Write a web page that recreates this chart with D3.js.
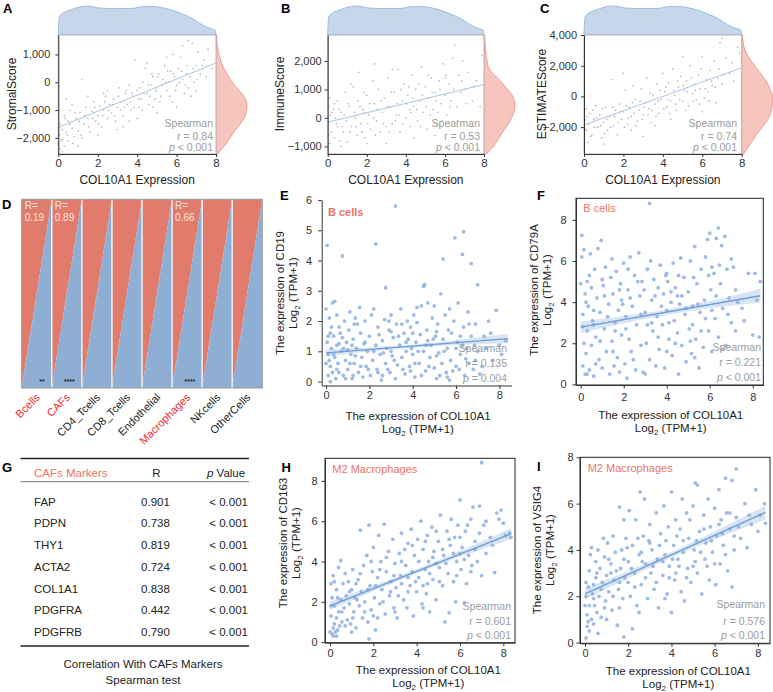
<!DOCTYPE html>
<html><head><meta charset="utf-8">
<script src="https://cdn.jsdelivr.net/npm/d3@7"></script>
<style>body{margin:0;background:#fff}svg{display:block;font-family:"Liberation Sans",Arial,sans-serif}</style>
</head><body><svg id="c" width="773" height="692"></svg>
<script>
// ---------------- DATA ----------------
const xTicksABC = [0, 2, 4, 6, 8];
// top marginal density of COL10A1 expression (x, relative height)
const colDensity = [[0,0],[0.05,0.62],[0.3,0.78],[0.6,0.86],[1.1,0.97],[1.5,1.0],[2.1,0.93],[3.0,0.91],[3.8,0.92],[4.3,0.98],[4.8,0.98],[5.3,0.94],[5.8,0.85],[6.3,0.72],[6.85,0.55],[7.3,0.35],[7.7,0.23],[7.95,0.17],[8,0]];
const stromalDensity = [[1700,0.02],[1140,0.07],[560,0.23],[-35,0.55],[-630,0.96],[-870,1.0],[-1230,0.93],[-1830,0.55],[-2190,0.34],[-2579,0.05]];
const immuneDensity = [[2910,0.02],[1814,0.13],[1233,0.58],[650,0.97],[400,1.0],[50,0.91],[-530,0.58],[-1000,0.3],[-1263,0.08]];
const estimateDensity = [[4000,0.02],[3000,0.11],[1935,0.44],[850,0.83],[-240,1.0],[-1330,0.89],[-2410,0.5],[-3280,0.22],[-3750,0.06]];
const stromalFit = [-1620, 694];
const immuneFit = [-150, 1174];
const estimateFit = [-1870, 1870];
const stromalStats = ["Spearman", "r = 0.84", "< 0.001"];
const immuneStats = ["Spearman", "r = 0.53", "< 0.001"];
const estimateStats = ["Spearman", "r = 0.74", "< 0.001"];
const stromalPts = [[0.0,-2200],[0.05,-1900],[0.1,-2400],[0.1,-1500],[0.15,-2050],[0.2,-1700],[0.3,-2300],[0.3,-1200],[0.4,-1800],[0.5,-2100],[0.5,-1400],[0.6,-1000],[0.7,-1650],[0.8,-1950],[0.9,-1300],[1.0,-1750],[1.1,-1100],[1.2,100],[1.2,-2000],[1.3,-1500],[1.4,-900],[1.5,-1300],[1.6,-1800],[1.7,-1050],[1.8,-700],[1.9,-1400],[2.0,-1200],[2.1,-850],[2.2,-1600],[2.3,-1000],[2.4,-500],[2.5,-1300],[2.5,-300],[2.6,-800],[2.7,-1100],[2.8,-600],[2.9,-1400],[3.0,-900],[3.1,-200],[3.2,-700],[3.3,-1200],[3.4,-400],[3.5,-800],[3.6,-100],[3.7,-1000],[3.8,-500],[3.9,800],[4.0,-300],[4.1,-900],[4.2,-600],[4.3,0],[4.4,500],[4.5,-400],[4.6,-800],[4.7,-100],[4.8,200],[4.9,-600],[5.0,-200],[5.1,300],[5.2,-500],[5.3,100],[5.4,600],[5.5,-300],[5.6,0],[5.7,400],[5.8,-700],[5.9,200],[6.0,-100],[6.1,500],[6.2,900],[6.3,100],[6.4,-400],[6.5,300],[6.6,-200],[6.7,200],[6.8,1400],[6.9,0],[7.0,600],[7.1,1100],[7.2,300],[7.4,800],[7.6,1200],[7.8,500],[6.6,1500],[5.8,1000],[4.5,700],[3.3,-1600],[2.0,-1900],[1.0,-2300],[0.2,-2500],[0.4,-600],[0.7,-800],[1.5,-500],[5.0,-1100],[6.0,-900],[3.0,-1700],[4.0,-1300],[7.0,-300],[7.5,200],[2.3,-400],[3.6,-1400],[4.8,-900],
 [0.05,-1600],[0.2,-2100],[0.35,-1300],[0.45,-1900],[0.6,-1500],[0.75,-2200],[0.85,-1100],[1.05,-1400],[1.15,-1900],[1.35,-1200],[1.55,-1600],[1.75,-1300],[1.85,-900],[2.05,-1500],[2.25,-1200],[2.35,-700],[2.55,-1000],[2.75,-800],[2.85,-1200],[3.05,-500],[3.15,-1000],[3.35,-900],[3.45,-300],[3.65,-700],[3.75,-400],[3.85,-900],[4.05,-600],[4.15,-200],[4.25,-1000],[4.35,-400],[4.55,-100],[4.65,-500],[4.75,300],[4.95,-300],[5.05,200],[5.15,-700],[5.25,-100],[5.45,0],[5.55,400],[5.65,-500],[5.85,300],[5.95,-300],[6.15,0],[6.25,400],[6.45,-100],[6.55,600],[6.75,-500],[6.85,500],[7.05,100],[7.3,600],[6.3,1300],[5.5,900]];
const immunePts = [[0.0,-300],[0.05,400],[0.1,-900],[0.1,700],[0.15,100],[0.2,-500],[0.3,300],[0.35,-700],[0.4,0],[0.5,600],[0.5,-300],[0.6,-800],[0.7,200],[0.8,-500],[0.9,900],[0.95,-100],[1.0,-850],[1.1,400],[1.2,-300],[1.3,1100],[1.4,0],[1.5,-600],[1.55,600],[1.6,1600],[1.7,-200],[1.8,300],[1.9,-700],[2.0,800],[2.1,100],[2.2,-400],[2.3,1300],[2.4,500],[2.5,-100],[2.6,1000],[2.7,-500],[2.8,200],[2.9,700],[3.0,-300],[3.1,1400],[3.2,400],[3.3,-200],[3.4,900],[3.5,100],[3.6,1700],[3.7,-500],[3.8,600],[3.9,1200],[4.0,0],[4.1,800],[4.2,-300],[4.3,1500],[4.4,400],[4.5,1000],[4.6,-100],[4.7,600],[4.8,1800],[4.9,200],[5.0,1100],[5.1,-400],[5.2,700],[5.3,1400],[5.4,300],[5.5,900],[5.6,-200],[5.7,1300],[5.8,500],[5.9,1900],[6.0,800],[6.1,100],[6.2,1200],[6.3,600],[6.4,2100],[6.5,2550],[6.6,400],[6.7,1500],[6.8,900],[6.9,2000],[7.0,1000],[7.2,1600],[7.4,600],[7.6,1300],[7.8,400],[7.9,2200],[4.4,-700],[2.0,-900],[0.7,-1000],[3.0,-900],[5.5,-600],[1.2,1200],[2.4,1900],[3.3,1700],[1.9,200],[4.2,300],[6.0,1400],
 [0.05,-600],[0.2,200],[0.35,500],[0.45,-200],[0.6,300],[0.75,-300],[0.85,100],[1.05,500],[1.15,-500],[1.35,200],[1.45,-300],[1.65,400],[1.75,-500],[1.85,900],[2.05,-200],[2.15,500],[2.35,0],[2.45,-600],[2.55,300],[2.75,600],[2.85,-200],[3.05,400],[3.15,-500],[3.25,900],[3.45,-100],[3.55,500],[3.65,100],[3.75,1000],[3.85,-200],[4.05,500],[4.15,1100],[4.25,200],[4.35,700],[4.55,300],[4.65,1200],[4.75,-300],[4.85,800],[5.05,400],[5.15,1500],[5.25,100],[5.35,900],[5.55,600],[5.65,200],[5.75,1000],[5.85,-100],[6.05,1500],[6.25,400],[6.45,1000],[6.65,-100],[6.85,1300],[7.1,500],[7.5,1100]];
const estimatePts = [[0.0,-2800],[0.05,-1500],[0.1,-2200],[0.1,-800],[0.2,-3000],[0.25,-1800],[0.3,-1100],[0.4,-2500],[0.5,-1500],[0.6,-600],[0.7,-2000],[0.8,-1200],[0.9,-2700],[1.0,-1700],[1.1,-700],[1.2,-2200],[1.3,-1300],[1.4,1100],[1.5,-1900],[1.6,-900],[1.7,-2500],[1.8,-500],[1.9,-1500],[2.0,-1000],[2.1,400],[2.2,-1800],[2.3,-700],[2.4,-1300],[2.5,700],[2.6,-200],[2.7,-1600],[2.8,-900],[2.9,500],[3.0,-1200],[3.1,-400],[3.2,1200],[3.3,-800],[3.4,-1700],[3.5,100],[3.6,-500],[3.7,800],[3.8,-1100],[3.9,-200],[4.0,1500],[4.1,300],[4.2,-700],[4.3,900],[4.4,-300],[4.5,1800],[4.6,100],[4.7,-900],[4.8,600],[4.9,1300],[5.0,-300],[5.1,400],[5.2,1000],[5.3,-600],[5.4,2000],[5.5,200],[5.6,800],[5.7,-200],[5.8,1400],[5.9,500],[6.0,2600],[6.1,-100],[6.2,1100],[6.3,300],[6.4,1700],[6.5,700],[6.6,2300],[6.7,-400],[6.8,1200],[6.9,3500],[7.0,800],[7.2,2500],[7.4,1500],[7.6,1000],[7.8,3200],[7.9,2800],[3.0,-2600],[5.6,-1800],[2.0,1500],[1.0,-3100],[4.4,-1500],[6.0,-1000],[7.0,3800],[5.0,2600],[2.4,-2200],[3.6,-1900],
 [0.05,-2100],[0.15,-1300],[0.35,-2600],[0.45,-900],[0.55,-2000],[0.65,-1400],[0.85,-1900],[0.95,-800],[1.05,-2400],[1.15,-1500],[1.35,-2000],[1.45,-700],[1.55,-1300],[1.75,-1700],[1.85,-1000],[2.05,-2000],[2.15,-600],[2.25,-1400],[2.45,-400],[2.55,-1100],[2.65,-1900],[2.85,-300],[2.95,-1500],[3.05,-700],[3.25,-1200],[3.35,200],[3.45,-900],[3.65,-1300],[3.75,-300],[3.85,400],[4.05,-800],[4.15,600],[4.25,-200],[4.35,-1100],[4.55,400],[4.65,-500],[4.75,1000],[4.85,-200],[5.05,700],[5.15,-900],[5.25,300],[5.45,1200],[5.55,-300],[5.65,400],[5.85,-500],[5.95,1800],[6.15,500],[6.35,-300],[6.45,1000],[6.65,600],[6.85,1800],[7.1,1400],[7.5,2200]];

const cellTypes = ["Bcells","CAFs","CD4_Tcells","CD8_Tcells","Endothelial","Macrophages","NKcells","OtherCells"];
const cellR = ["0.19","0.89","","","","0.66","",""];
const cellStars = ["**","****","","","","****","",""];

const cafMarkers = ["FAP","PDPN","THY1","ACTA2","COL1A1","PDGFRA","PDGFRB"];
const cafR = [0.901, 0.738, 0.819, 0.724, 0.838, 0.442, 0.790];
const cafP = ["< 0.001","< 0.001","< 0.001","< 0.001","< 0.001","< 0.001","< 0.001"];

const cd19Pts = [[0.0,2.4],[0.05,4.5],[0.05,1.3],[0.1,0.2],[0.1,0.9],[0.15,2.1],[0.2,1.6],[0.2,0.5],[0.25,1.1],[0.3,2.6],[0.3,0.3],[0.35,1.5],[0.4,0.8],[0.4,2.65],[0.45,0.1],[0.5,1.2],[0.5,2.2],[0.55,0.6],[0.6,1.8],[0.6,0.3],[0.7,1.0],[0.75,4.15],[0.75,1.45],[0.8,0.2],[0.85,2.0],[0.9,0.7],[0.95,1.3],[1.0,0.4],[1.05,1.7],[1.1,2.3],[1.15,0.9],[1.2,0.1],[1.25,1.4],[1.3,0.6],[1.35,2.1],[1.4,1.1],[1.5,0.3],[1.55,2.45],[1.6,1.6],[1.65,0.8],[1.7,0.15],[1.75,1.25],[1.8,2.0],[1.85,0.5],[1.9,1.0],[2.0,1.5],[2.05,0.2],[2.1,2.2],[2.15,0.7],[2.2,2.4],[2.3,4.55],[2.3,1.2],[2.35,0.4],[2.4,1.8],[2.5,0.9],[2.55,0.05],[2.6,1.35],[2.7,2.05],[2.75,3.1],[2.75,0.6],[2.8,1.1],[2.9,1.7],[2.95,0.3],[3.0,2.2],[3.05,0.85],[3.1,1.45],[3.2,5.8],[3.2,0.1],[3.25,1.9],[3.3,0.55],[3.4,1.2],[3.45,2.4],[3.5,0.8],[3.6,1.6],[3.65,0.25],[3.7,1.0],[3.75,2.0],[3.8,1.4],[3.85,0.5],[3.9,1.8],[4.0,0.9],[4.05,2.2],[4.1,0.15],[4.15,1.3],[4.2,1.95],[4.3,0.6],[4.35,1.55],[4.4,2.5],[4.5,3.15],[4.5,1.0],[4.55,3.2],[4.6,0.35],[4.65,1.7],[4.7,2.6],[4.8,0.8],[4.85,1.2],[4.9,2.1],[5.0,0.45],[5.05,1.5],[5.1,0.1],[5.15,1.9],[5.2,0.95],[5.3,2.9],[5.35,0.6],[5.4,4.05],[5.4,1.4],[5.5,2.2],[5.55,0.3],[5.6,1.1],[5.7,2.4],[5.75,0.7],[5.8,1.6],[5.9,2.0],[5.95,4.75],[6.0,0.5],[6.05,1.3],[6.1,2.6],[6.2,0.9],[6.3,4.2],[6.35,4.95],[6.35,1.8],[6.4,0.2],[6.5,1.1],[6.55,2.3],[6.6,0.6],[6.7,3.9],[6.7,1.5],[6.8,0.4],[6.9,1.9],[7.0,3.2],[7.0,1.0],[7.2,0.5],[7.3,1.5],[7.5,2.0],[7.7,0.7],[7.85,2.35],[8.0,1.2],[8.3,1.35],[6.2,1.5],[5.1,1.65],[4.0,1.6],[3.0,1.0],[1.0,1.05],[0.15,0.7],[1.3,1.9],[2.6,0.2],[3.9,0.35],[4.7,1.35],[5.6,0.15],[0.6,1.25],
 [0.1,1.5],[0.2,0.0],[0.35,0.9],[0.5,0.4],[0.65,1.6],[0.8,1.1],[0.9,0.1],[1.1,0.6],[1.25,0.2],[1.45,1.9],[1.6,0.5],[1.8,1.3],[1.95,0.4],[2.2,1.0],[2.4,0.3],[2.45,1.55],[2.65,0.95],[2.85,0.4],[3.0,1.65],[3.15,0.7],[3.35,1.5],[3.55,0.4],[3.7,1.3],[3.95,1.1],[4.1,0.6],[4.25,1.0],[4.4,0.2],[4.6,1.2],[4.75,0.5],[4.95,1.4],[5.1,0.85],[5.25,0.2],[5.45,1.0],[5.65,1.7],[5.85,0.35],[6.0,1.1],[6.15,0.4],[6.3,1.2],[6.45,0.75],[6.6,1.9],[6.85,1.2],[7.1,0.25],[7.4,1.1],[7.6,1.6],[0.0,0.6],[0.25,1.8],[1.35,0.85],[2.9,2.0],[3.5,1.9],[4.2,2.45],[5.0,2.5],[5.7,0.05],[6.9,0.7],[8.1,0.9],[1.2,1.2]];
const cd79aPts = [[0.0,4.9],[0.05,7.25],[0.05,6.2],[0.1,3.4],[0.1,0.9],[0.15,2.0],[0.15,6.55],[0.2,4.4],[0.2,0.5],[0.25,1.5],[0.3,5.0],[0.3,2.6],[0.35,3.8],[0.4,0.7],[0.45,6.35],[0.5,4.7],[0.5,1.9],[0.55,3.1],[0.6,0.4],[0.65,5.6],[0.7,2.3],[0.75,4.2],[0.8,6.6],[0.85,1.2],[0.9,3.5],[0.95,7.0],[1.0,0.8],[1.05,4.8],[1.1,2.7],[1.15,5.7],[1.2,1.6],[1.3,3.9],[1.35,0.5],[1.4,5.2],[1.45,2.1],[1.5,4.4],[1.55,0.9],[1.6,3.0],[1.65,5.5],[1.7,1.3],[1.75,3.6],[1.8,0.6],[1.85,4.9],[1.9,2.4],[2.0,5.9],[2.05,1.0],[2.1,3.3],[2.15,0.3],[2.2,4.6],[2.25,2.2],[2.3,6.2],[2.35,1.6],[2.4,3.8],[2.5,5.3],[2.55,0.7],[2.6,2.9],[2.7,6.4],[2.75,4.3],[2.8,1.9],[2.85,5.0],[2.9,0.6],[3.0,3.5],[3.05,2.0],[3.1,5.6],[3.2,8.8],[3.2,1.2],[3.3,4.1],[3.35,2.6],[3.4,5.1],[3.5,0.9],[3.55,3.3],[3.6,4.7],[3.65,1.7],[3.7,5.8],[3.8,2.9],[3.85,4.4],[3.9,0.8],[4.0,3.6],[4.05,5.0],[4.1,2.2],[4.2,4.0],[4.25,1.4],[4.3,5.9],[4.35,3.1],[4.4,4.7],[4.5,2.5],[4.55,0.5],[4.6,3.9],[4.65,6.15],[4.7,1.9],[4.8,5.2],[4.85,3.4],[4.9,1.1],[5.0,4.5],[5.05,2.7],[5.1,6.0],[5.15,1.5],[5.2,3.8],[5.3,6.7],[5.35,2.2],[5.4,4.9],[5.5,0.8],[5.55,3.5],[5.6,5.6],[5.7,1.8],[5.75,4.1],[5.8,6.2],[5.9,7.05],[5.95,2.6],[6.0,7.35],[6.05,4.6],[6.1,1.6],[6.2,5.4],[6.25,3.2],[6.3,7.1],[6.4,7.6],[6.4,2.3],[6.5,4.9],[6.55,6.75],[6.6,3.7],[6.7,7.2],[6.75,1.9],[6.8,5.6],[6.9,4.2],[7.0,3.0],[7.1,5.7],[7.3,4.0],[7.5,3.7],[7.8,5.4],[8.0,2.4],[8.2,4.1],[8.35,5.0],[8.3,2.3],[7.2,2.6],[6.1,5.7],[4.0,5.4],[2.2,5.6],[1.0,5.1],[0.6,2.9],[1.9,4.1],[3.3,3.0],[4.5,4.3],[5.2,2.9],
 [0.1,2.8],[0.25,4.0],[0.4,5.3],[0.6,3.6],[0.7,1.0],[0.9,2.1],[1.1,4.3],[1.25,3.3],[1.45,6.1],[1.6,2.6],[1.8,4.6],[1.95,3.9],[2.1,2.7],[2.3,4.2],[2.45,1.2],[2.65,5.0],[2.8,3.4],[2.95,4.6],[3.1,2.9],[3.25,6.0],[3.45,4.3],[3.6,2.3],[3.75,3.8],[3.95,5.3],[4.1,3.0],[4.2,4.5],[4.4,2.0],[4.55,5.3],[4.7,4.3],[4.9,3.7],[5.1,2.1],[5.25,5.2],[5.45,3.9],[5.6,2.6],[5.8,3.2],[5.95,5.3],[6.1,3.6],[6.3,4.3],[6.45,5.8],[6.6,1.7],[6.85,3.4],[7.0,6.1],[7.2,4.6],[7.6,3.1],[8.1,5.4],[0.3,0.5],[1.5,1.6],[3.0,0.5],[4.0,1.6],[5.3,1.3]];
const cd163Pts = [[0.0,0.5],[0.05,1.3],[0.05,2.9],[0.1,0.4],[0.1,2.2],[0.15,0.7],[0.15,3.3],[0.2,0.9],[0.2,1.8],[0.25,0.5],[0.3,2.6],[0.3,1.2],[0.35,0.6],[0.4,3.7],[0.4,1.5],[0.45,0.8],[0.5,2.1],[0.5,4.05],[0.55,1.0],[0.6,2.9],[0.65,1.7],[0.7,3.4],[0.75,2.3],[0.8,1.1],[0.85,3.0],[0.9,1.9],[0.95,0.9],[1.0,2.6],[1.05,3.6],[1.1,1.5],[1.15,2.2],[1.2,0.7],[1.3,3.1],[1.35,1.8],[1.4,5.55],[1.45,2.5],[1.5,1.2],[1.55,3.8],[1.6,2.0],[1.7,4.3],[1.75,1.0],[1.8,5.8],[1.8,0.15],[1.85,2.8],[1.9,1.6],[1.95,3.5],[2.0,4.7],[2.05,2.2],[2.1,0.6],[2.2,3.2],[2.25,5.3],[2.3,1.9],[2.35,4.0],[2.4,2.6],[2.5,5.85],[2.55,1.4],[2.6,3.5],[2.7,4.5],[2.75,2.3],[2.8,3.0],[2.9,5.1],[2.95,1.7],[3.0,3.9],[3.05,2.7],[3.1,1.2],[3.2,4.4],[3.25,3.3],[3.3,5.4],[3.4,2.1],[3.5,3.8],[3.55,1.7],[3.6,4.9],[3.7,2.8],[3.75,5.6],[3.8,3.5],[3.85,1.3],[3.9,4.3],[4.0,2.5],[4.05,5.1],[4.1,3.2],[4.2,6.0],[4.25,1.9],[4.3,4.6],[4.4,3.6],[4.45,2.4],[4.5,5.3],[4.55,4.0],[4.6,1.5],[4.7,5.7],[4.75,3.1],[4.8,4.5],[4.9,2.1],[5.0,5.0],[5.05,3.7],[5.1,6.3],[5.2,2.8],[5.25,4.3],[5.3,1.0],[5.4,5.5],[5.45,3.4],[5.5,1.45],[5.55,4.8],[5.6,6.1],[5.7,3.0],[5.75,5.2],[5.8,2.0],[5.85,4.0],[5.9,5.8],[6.0,7.05],[6.05,3.6],[6.1,4.7],[6.2,1.95],[6.25,5.5],[6.3,2.9],[6.4,4.3],[6.5,6.1],[6.55,3.8],[6.6,6.7],[6.7,5.0],[6.8,4.0],[6.9,6.75],[7.0,8.9],[7.0,3.3],[7.1,5.8],[7.2,4.4],[7.4,5.2],[7.6,3.45],[7.7,6.4],[7.8,6.1],[7.9,6.55],[8.1,5.3],[8.3,5.4],[8.35,5.2],[4.5,2.9],[3.3,2.9],[0.3,0.3],[1.2,2.9],[2.0,1.3],[3.6,3.2],[4.9,3.9],[6.0,4.4],
 [0.05,1.8],[0.2,3.0],[0.35,2.2],[0.55,1.5],[0.7,0.8],[0.9,2.5],[1.05,1.2],[1.25,2.1],[1.4,3.4],[1.6,1.5],[1.75,2.6],[1.9,4.0],[2.1,2.8],[2.3,3.6],[2.45,2.0],[2.6,4.2],[2.8,2.5],[2.95,3.3],[3.15,2.3],[3.3,4.0],[3.45,4.6],[3.6,2.5],[3.8,4.8],[3.95,3.0],[4.1,4.0],[4.3,2.8],[4.4,5.0],[4.6,3.4],[4.75,4.2],[4.9,5.5],[5.05,3.0],[5.2,4.6],[5.35,3.9],[5.5,5.1],[5.7,4.4],[5.85,3.3],[6.0,5.2],[6.2,4.1],[6.35,5.8],[6.5,3.5],[6.7,4.6],[6.9,5.4],[7.2,6.0],[7.5,4.8],[8.0,5.9],[0.15,0.3],[1.0,0.5],[2.2,1.2],[3.0,1.5],[4.3,1.7]];
const vsig4Pts = [[0.0,1.6],[0.05,0.2],[0.05,2.0],[0.1,0.7],[0.1,1.2],[0.15,2.4],[0.2,0.5],[0.2,1.6],[0.25,3.8],[0.3,1.0],[0.3,4.1],[0.35,2.1],[0.4,0.8],[0.45,1.6],[0.5,2.8],[0.5,3.5],[0.55,1.3],[0.6,4.0],[0.65,2.0],[0.7,3.2],[0.75,1.1],[0.8,2.6],[0.85,4.5],[0.9,3.7],[0.95,1.8],[1.0,2.9],[1.05,4.3],[1.1,2.2],[1.2,3.4],[1.25,1.4],[1.3,4.6],[1.35,2.7],[1.4,3.9],[1.5,0.75],[1.55,2.3],[1.6,5.85],[1.65,3.2],[1.7,4.0],[1.75,1.9],[1.8,0.25],[1.8,5.3],[1.85,2.8],[1.9,4.5],[2.0,3.5],[2.05,5.7],[2.1,2.0],[2.2,0.6],[2.2,4.2],[2.3,3.0],[2.35,5.3],[2.4,1.6],[2.5,3.8],[2.55,6.5],[2.6,2.5],[2.7,4.6],[2.75,6.2],[2.8,3.4],[2.9,1.9],[3.0,5.1],[3.05,3.0],[3.1,4.0],[3.2,2.3],[3.3,5.6],[3.35,3.6],[3.4,1.5],[3.5,4.7],[3.6,2.9],[3.65,5.9],[3.7,3.8],[3.8,2.1],[3.85,5.0],[3.9,3.3],[4.0,6.5],[4.0,1.3],[4.1,4.2],[4.15,2.7],[4.2,5.3],[4.3,3.6],[4.4,4.9],[4.45,2.2],[4.5,6.2],[4.55,3.9],[4.6,1.8],[4.7,5.6],[4.75,3.2],[4.8,4.5],[4.9,2.6],[5.0,5.9],[5.05,4.0],[5.1,6.9],[5.2,6.8],[5.2,3.0],[5.3,4.8],[5.4,2.1],[5.5,5.5],[5.55,3.6],[5.6,4.3],[5.7,6.2],[5.75,2.7],[5.8,5.0],[5.9,3.9],[6.0,5.8],[6.05,2.5],[6.1,4.6],[6.2,6.6],[6.25,3.4],[6.3,5.3],[6.4,4.2],[6.5,7.1],[6.55,5.6],[6.6,3.1],[6.7,4.9],[6.8,7.0],[6.8,2.4],[6.9,4.0],[7.0,7.5],[7.0,5.4],[7.2,4.5],[7.4,6.0],[7.5,4.1],[7.7,5.1],[7.9,6.6],[8.1,5.5],[8.3,6.0],[8.35,5.15],[3.0,4.3],[2.0,2.6],[1.2,3.0],[0.4,2.5],[1.6,1.5],[2.6,3.9],[4.2,3.0],[5.1,3.5],
 [0.05,2.6],[0.2,3.1],[0.4,1.9],[0.55,3.0],[0.75,2.3],[0.9,1.5],[1.1,3.6],[1.3,2.0],[1.45,3.1],[1.6,2.6],[1.8,3.6],[1.95,4.1],[2.15,3.2],[2.3,2.4],[2.45,4.5],[2.65,3.5],[2.8,2.8],[2.95,4.4],[3.15,3.3],[3.3,2.6],[3.45,4.2],[3.6,3.5],[3.75,4.4],[3.9,2.8],[4.05,3.6],[4.25,4.6],[4.35,3.3],[4.55,4.4],[4.7,2.8],[4.85,5.3],[5.0,3.3],[5.15,4.4],[5.35,3.9],[5.5,4.9],[5.65,3.3],[5.85,4.4],[6.0,3.4],[6.2,5.1],[6.35,4.7],[6.5,3.8],[6.7,5.6],[6.9,4.6],[7.1,5.0],[7.6,5.5],[8.0,4.8],[0.15,0.9],[0.6,0.4],[1.0,1.0],[2.5,1.3],[3.7,1.9]];

// fitted line endpoints [x, y] and confidence band [x, low, high]
const cd19Fit = [[0,0.95],[8.4,1.42]];
const cd19Band = [[0,0.83,1.07],[2,0.99,1.13],[4,1.12,1.22],[6,1.21,1.37],[8.4,1.27,1.57]];
const cd79aFit = [[0,2.78],[8.35,4.31]];
const cd79aBand = [[0,2.5,3.06],[2,2.97,3.33],[4,3.38,3.64],[6,3.7,4.06],[8.35,3.98,4.64]];
const cd163Fit = [[0,1.8],[8.35,5.37]];
const cd163Band = [[0,1.6,2.0],[2,2.52,2.8],[4,3.4,3.62],[6,4.22,4.52],[8.35,5.1,5.64]];
const vsig4Fit = [[0,2.1],[8.35,5.62]];
const vsig4Band = [[0,1.86,2.34],[2,2.78,3.1],[4,3.67,3.91],[6,4.46,4.8],[8.35,5.32,5.92]];
const cd19Stats = ["Spearman","r = 0.135","= 0.004"];
const cd79aStats = ["Spearman","r = 0.221","< 0.001"];
const cd163Stats = ["Spearman","r = 0.601","< 0.001"];
const vsig4Stats = ["Spearman","r = 0.576","< 0.001"];
const geneTicks = [0, 2, 4, 6, 8];
const cd19Ticks = [0, 1, 2, 3, 4, 5, 6];

// ---------------- DRAWING ----------------
const svg = d3.select("#c");
const INK = "#222";

function letter(x, y, s) {
  svg.append("text").attr("x", x).attr("y", y).attr("font-size", 13).attr("font-weight", "bold").attr("fill", "#000").text(s);
}
function styleAxis(g, size) {
  g.attr("font-family", null).attr("font-size", null);
  g.selectAll("text").attr("font-size", size).attr("fill", "#333");
  g.selectAll("line").attr("stroke", "#333");
  g.select(".domain").attr("stroke", "#333");
}
function statText(g, x, ys, lines, fs) {
  lines.forEach((s, i) => {
    const t = g.append("text").attr("x", x).attr("y", ys[i]).attr("text-anchor", "end")
      .attr("font-size", fs).attr("fill", "#9c9c9c");
    if (i === 2) {
      t.append("tspan").attr("font-style", "italic").text("p");
      t.append("tspan").text(" " + s);
    } else t.text(s);
  });
}

// ---- Panels A, B, C ----
const abc = [
  {x0: 58.3, x1: 216, lx: 3, L: "A", title: "StromalScore", tx: 16, pts: stromalPts, dens: stromalDensity, yDom: [-2580, 1700], yTicks: [-2000,-1000,0,1000], fit: stromalFit, stats: stromalStats, sx: 213, pad: 5},
  {x0: 327.7, x1: 484, lx: 281, L: "B", title: "ImmuneScore", tx: 284, pts: immunePts, dens: immuneDensity, yDom: [-1265, 2910], yTicks: [-1000,0,1000,2000], fit: immuneFit, stats: immuneStats, sx: 480, pad: 3},
  {x0: 584, x1: 741.7, lx: 540, L: "C", title: "ESTIMATEScore", tx: 546, pts: estimatePts, dens: estimateDensity, yDom: [-3750, 4000], yTicks: [-2000,0,2000,4000], fit: estimateFit, stats: estimateStats, sx: 737, pad: 4}
];
const abcTop = 35, abcBot = 154;
abc.forEach(p => {
  const g = svg.append("g");
  const xs = d3.scaleLinear().domain([0, 8]).range([p.x0, p.x1]);
  const ys = d3.scaleLinear().domain(p.yDom).range([abcBot, abcTop]);
  const hs = d3.scaleLinear().domain([0, 1]).range([abcTop, abcTop - 29]);
  g.append("path").datum(colDensity)
    .attr("d", d3.area().x(d => xs(d[0])).y0(abcTop).y1(d => hs(d[1])).curve(d3.curveMonotoneX))
    .attr("fill", "#c6d7ec").attr("stroke", "#8fb1db").attr("stroke-width", 0.8);
  const ws = d3.scaleLinear().domain([0, 1]).range([p.x1, p.x1 + 31]);
  g.append("path").datum(p.dens)
    .attr("d", d3.area().y(d => ys(d[0])).x0(p.x1).x1(d => ws(d[1])).curve(d3.curveMonotoneY))
    .attr("fill", "#f6c5bd").attr("stroke", "#ea8a7c").attr("stroke-width", 0.8);
  g.append("rect").attr("x", p.x0).attr("y", abcTop).attr("width", p.x1 - p.x0).attr("height", abcBot - abcTop)
    .attr("fill", "#fff").attr("stroke", "#b5b5b5").attr("stroke-width", 1);
  g.append("g").selectAll("circle").data(p.pts).join("circle")
    .attr("cx", d => xs(d[0])).attr("cy", d => ys(d[1])).attr("r", 0.85).attr("fill", "#b9b9b9");
  g.append("line").attr("x1", xs(0)).attr("y1", ys(p.fit[0])).attr("x2", xs(8)).attr("y2", ys(p.fit[1]))
    .attr("stroke", "#a9c5e6").attr("stroke-width", 1);
  statText(g, p.sx, [126.5, 140, 151], p.stats, 10.5);
  const ya = g.append("g").attr("transform", `translate(${p.x0},0)`)
    .call(d3.axisLeft(ys).tickValues(p.yTicks).tickFormat(d3.format(",")).tickSize(3).tickPadding(p.pad).tickSizeOuter(0));
  styleAxis(ya, 11);
  const xa = g.append("g").attr("transform", `translate(0,${abcBot})`)
    .call(d3.axisBottom(xs).tickValues(xTicksABC).tickFormat(d3.format("d")).tickSize(3).tickPadding(1.5).tickSizeOuter(0));
  styleAxis(xa, 11.5);
  g.append("text").attr("transform", `translate(${p.tx},94) rotate(-90)`).attr("text-anchor", "middle")
    .attr("font-size", 12).attr("fill", INK).text(p.title);
  g.append("text").attr("x", (p.x0 + p.x1) / 2).attr("y", 184).attr("text-anchor", "middle")
    .attr("font-size", 12).attr("fill", INK).text("COL10A1 Expression");
  letter(p.lx, 13, p.L);
});

// ---- Panel D ----
(function () {
  const g = svg.append("g");
  const left = 21.7, right = 262.3, top = 199.3, bot = 388;
  const xb = d3.scaleBand().domain(cellTypes).range([left, right]);
  const w = xb.bandwidth();
  cellTypes.forEach((c, i) => {
    const xl = xb(c), xr = xl + w;
    g.append("polygon").attr("points", `${xl},${top} ${xr},${top} ${xl},${bot}`).attr("fill", "#e17c6d");
    g.append("polygon").attr("points", `${xl},${bot} ${xr},${top} ${xr},${bot}`).attr("fill", "#8faed4");
    if (i > 0) g.append("line").attr("x1", xl).attr("x2", xl).attr("y1", top).attr("y2", bot)
      .attr("stroke", "#ececec").attr("stroke-width", 1.6);
    if (cellR[i]) {
      g.append("text").attr("x", xl + 3).attr("y", top + 10).attr("font-size", 10).attr("fill", "#f8e4df").text("R=");
      g.append("text").attr("x", xl + 3).attr("y", top + 22).attr("font-size", 10).attr("fill", "#f8e4df").text(cellR[i]);
    }
    if (cellStars[i]) g.append("text").attr("x", xr - 7).attr("y", bot - 4).attr("text-anchor", "end")
      .attr("font-size", 7).attr("font-weight", "bold").attr("fill", "#2a2a3a").text(cellStars[i]);
    g.append("text").attr("transform", `translate(${xl + w / 2 + 4},398) rotate(-45)`).attr("text-anchor", "end")
      .attr("font-size", 11).attr("fill", cellR[i] ? "#ef2a2a" : INK).text(c);
  });
  g.append("rect").attr("x", left).attr("y", top).attr("width", right - left).attr("height", bot - top)
    .attr("fill", "none").attr("stroke", "#9a9a9a").attr("stroke-width", 1);
  letter(2, 209, "D");
})();

// ---- Panels E, F, H, I ----
const genePanels = [
  {L: "E", lx: 280, ly: 200, l: 321.7, r: 511.7, t: 200, b: 385.5, xDom: [-0.2, 8.57], yDom: [-0.13, 6], yTicks: cd19Ticks, box: false,
   pts: cd19Pts, fit: cd19Fit, band: cd19Band, stats: cd19Stats, sx: 507, sy: [351.5, 366.5, 381.5],
   cell: "B cells", cx: 328, cy: 215.5, bold: true, gene: "CD19", yt: [284, 297, 293], xt: [418, 419.5, 432.5], ypad: 6, xpad: 2},
  {L: "F", lx: 537, ly: 200, l: 576, r: 763.3, t: 198.3, b: 385, xDom: [-0.22, 8.49], yDom: [-0.03, 9.05], yTicks: geneTicks, box: true,
   pts: cd79aPts, fit: cd79aFit, band: cd79aBand, stats: cd79aStats, sx: 761, sy: [350.5, 365.5, 380.5],
   cell: "B cells", cx: 583.3, cy: 212, bold: false, gene: "CD79A", yt: [537.5, 550.5, 290], xt: [670.7, 418.5, 431.5], ypad: 6, xpad: 5},
  {L: "H", lx: 281.5, ly: 471.7, l: 325, r: 515, t: 458.3, b: 642.7, xDom: [-0.23, 8.54], yDom: [-0.03, 9.12], yTicks: geneTicks, box: true,
   pts: cd163Pts, fit: cd163Fit, band: cd163Band, stats: cd163Stats, sx: 511, sy: [609.5, 625, 638.5],
   cell: "M2 Macrophages", cx: 332.3, cy: 473, bold: false, gene: "CD163", yt: [287, 300, 543], xt: [428.3, 674, 687], ypad: 4, xpad: 3},
  {L: "I", lx: 537, ly: 471, l: 580, r: 770, t: 457.3, b: 643.3, xDom: [-0.23, 8.56], yDom: [-0.03, 8.0], yTicks: geneTicks, box: true,
   pts: vsig4Pts, fit: vsig4Fit, band: vsig4Band, stats: vsig4Stats, sx: 765, sy: [608, 625, 639],
   cell: "M2 Macrophages", cx: 587.7, cy: 471.5, bold: false, gene: "VSIG4", yt: [540.5, 553.5, 550], xt: [678.3, 675, 688], ypad: 3, xpad: 2}
];
genePanels.forEach(p => {
  const g = svg.append("g");
  const xs = d3.scaleLinear().domain(p.xDom).range([p.l, p.r]);
  const ys = d3.scaleLinear().domain(p.yDom).range([p.b, p.t]);
  g.append("path").datum(p.band)
    .attr("d", d3.area().x(d => xs(d[0])).y0(d => ys(d[1])).y1(d => ys(d[2])).curve(d3.curveMonotoneX))
    .attr("fill", "#cadcf1").attr("opacity", 0.75);
  g.append("g").selectAll("circle").data(p.pts).join("circle")
    .attr("cx", d => xs(d[0])).attr("cy", d => ys(d[1])).attr("r", 1.9)
    .attr("fill", "#8db0dd").attr("fill-opacity", 0.85);
  g.append("line").attr("x1", xs(p.fit[0][0])).attr("y1", ys(p.fit[0][1])).attr("x2", xs(p.fit[1][0])).attr("y2", ys(p.fit[1][1]))
    .attr("stroke", "#6e9bd2").attr("stroke-width", 1.3);
  if (p.box) g.append("rect").attr("x", p.l).attr("y", p.t).attr("width", p.r - p.l).attr("height", p.b - p.t)
    .attr("fill", "none").attr("stroke", "#222").attr("stroke-width", 1);
  const ya = g.append("g").attr("transform", `translate(${p.l},0)`)
    .call(d3.axisLeft(ys).tickValues(p.yTicks).tickFormat(d3.format("d")).tickSize(3.5).tickPadding(p.ypad).tickSizeOuter(0));
  styleAxis(ya, 11);
  const xa = g.append("g").attr("transform", `translate(0,${p.b})`)
    .call(d3.axisBottom(xs).tickValues(geneTicks).tickFormat(d3.format("d")).tickSize(3.5).tickPadding(p.xpad).tickSizeOuter(0));
  styleAxis(xa, 11);
  statText(g, p.sx, p.sy, p.stats, 10.5);
  g.append("text").attr("x", p.cx).attr("y", p.cy).attr("font-size", 11).attr("font-weight", p.bold ? "bold" : "normal")
    .attr("fill", "#ea7566").text(p.cell);
  // y title
  g.append("text").attr("transform", `translate(${p.yt[0]},${p.yt[2]}) rotate(-90)`).attr("text-anchor", "middle")
    .attr("font-size", 11.5).attr("fill", INK).text("The expression of " + p.gene);
  const t2 = g.append("text").attr("transform", `translate(${p.yt[1]},${p.yt[2]}) rotate(-90)`).attr("text-anchor", "middle")
    .attr("font-size", 11.5).attr("fill", INK);
  t2.append("tspan").text("Log");
  t2.append("tspan").attr("font-size", 8).attr("dy", 3).text("2");
  t2.append("tspan").attr("dy", -3).text(" (TPM+1)");
  // x title
  g.append("text").attr("x", p.xt[0]).attr("y", p.xt[1]).attr("text-anchor", "middle")
    .attr("font-size", 11.5).attr("fill", INK).text("The expression of COL10A1");
  const t3 = g.append("text").attr("x", p.xt[0]).attr("y", p.xt[2]).attr("text-anchor", "middle")
    .attr("font-size", 11.5).attr("fill", INK);
  t3.append("tspan").text("Log");
  t3.append("tspan").attr("font-size", 8).attr("dy", 3).text("2");
  t3.append("tspan").attr("dy", -3).text(" (TPM+1)");
  letter(p.lx, p.ly, p.L);
});

// ---- Panel G (table) ----
(function () {
  const g = svg.append("g");
  const left = 20.5, right = 249;
  const rowY = d3.scalePoint().domain(cafMarkers).range([505.5, 636]);
  g.append("line").attr("x1", left).attr("x2", right).attr("y1", 458.5).attr("y2", 458.5).attr("stroke", "#222").attr("stroke-width", 1.3);
  g.append("line").attr("x1", left).attr("x2", right).attr("y1", 481.7).attr("y2", 481.7).attr("stroke", "#555").attr("stroke-width", 0.8);
  g.append("line").attr("x1", left).attr("x2", right).attr("y1", 646).attr("y2", 646).attr("stroke", "#222").attr("stroke-width", 1.3);
  g.append("text").attr("x", 34).attr("y", 477).attr("font-size", 11.5).attr("fill", "#ea7566").text("CAFs Markers");
  g.append("text").attr("x", 156.5).attr("y", 477).attr("text-anchor", "middle").attr("font-size", 11.5).attr("fill", INK).text("R");
  const ph = g.append("text").attr("x", 207).attr("y", 477).attr("font-size", 11.5).attr("fill", INK);
  ph.append("tspan").attr("font-style", "italic").text("p");
  ph.append("tspan").text(" Value");
  cafMarkers.forEach((m, i) => {
    const y = rowY(m);
    g.append("text").attr("x", 34).attr("y", y).attr("font-size", 11.5).attr("fill", INK).text(m);
    g.append("text").attr("x", 155.5).attr("y", y).attr("text-anchor", "middle").attr("font-size", 11.5).attr("fill", INK).text(cafR[i].toFixed(3));
    g.append("text").attr("x", 248).attr("y", y).attr("text-anchor", "end").attr("font-size", 11.5).attr("fill", INK).text(cafP[i]);
  });
  g.append("text").attr("x", 143).attr("y", 667.5).attr("text-anchor", "middle").attr("font-size", 11.5).attr("fill", INK).text("Correlation With CAFs Markers");
  g.append("text").attr("x", 143).attr("y", 684).attr("text-anchor", "middle").attr("font-size", 11.5).attr("fill", INK).text("Spearman test");
  letter(2, 472, "G");
})();
</script></body></html>
